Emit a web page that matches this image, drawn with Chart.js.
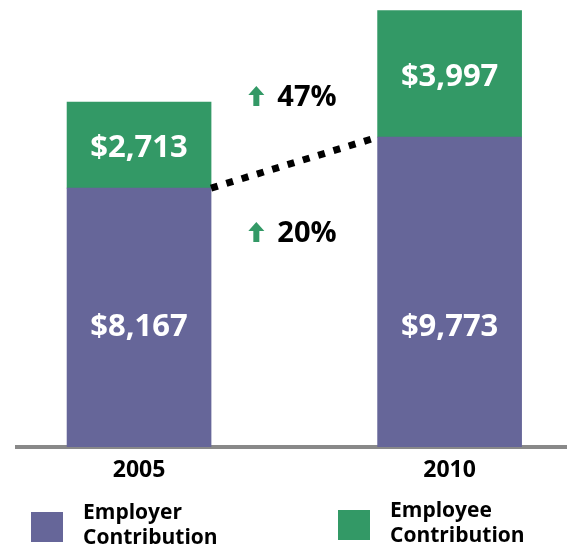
<!DOCTYPE html>
<html>
<head>
<meta charset="utf-8">
<script src="https://cdn.jsdelivr.net/npm/chart.js@4"></script>
<style>
html,body{margin:0;padding:0;background:#fff;}
canvas{display:block;}
</style>
</head>
<body>
<canvas id="c" width="567" height="547"></canvas>
<script>
const categories = ['2005', '2010'];
const employer = [8167, 9773];
const employee = [2713, 3997];
const seriesNames = ['Employer Contribution', 'Employee Contribution'];
const growthLabels = ['47%', '20%'];

const PURPLE = '#666699';
const GREEN = '#339966';
const FONT = '"Open Sans", "Noto Sans", sans-serif';

function fmt(v) { return '$' + v.toLocaleString('en-US'); }

const labelPlugin = {
  id: 'labels',
  afterDatasetsDraw(chart) {
    const ctx = chart.ctx;
    const ys = chart.scales.y;
    ctx.save();
    ctx.fillStyle = '#fff';
    const fs = 31;
    ctx.font = 'bold ' + fs + 'px ' + FONT;
    ctx.textAlign = 'center';
    ctx.textBaseline = 'alphabetic';
    const cap = fs * 0.714;
    const m0 = chart.getDatasetMeta(0), m1 = chart.getDatasetMeta(1);
    m0.data.forEach((bar, i) => {
      const y = ys.getPixelForValue(3850);
      ctx.fillText(fmt(employer[i]), bar.x, y + cap / 2);
    });
    m1.data.forEach((bar, i) => {
      const y = (bar.y + bar.base) / 2;
      ctx.fillText(fmt(employee[i]), bar.x, y + cap / 2 + 1);
    });
    ctx.restore();
  }
};

const annotPlugin = {
  id: 'annot',
  afterDatasetsDraw(chart) {
    const ctx = chart.ctx;
    const b0 = chart.getDatasetMeta(0).data[0];
    const b1 = chart.getDatasetMeta(0).data[1];
    ctx.save();
    // dotted connector
    ctx.strokeStyle = '#000';
    ctx.lineWidth = 7;
    ctx.setLineDash([7, 9]);
    ctx.beginPath();
    ctx.moveTo(b0.x + b0.width / 2, b0.y);
    ctx.lineTo(b1.x - b1.width / 2, b1.y);
    ctx.stroke();
    ctx.setLineDash([]);
    // growth labels
    const mid = (b0.x + b1.x) / 2;
    const rows = [96, 232];
    rows.forEach((cy, i) => {
      const ax = mid - 38;
      ctx.fillStyle = GREEN;
      ctx.beginPath();
      ctx.moveTo(ax, cy - 10);
      ctx.lineTo(ax + 8, cy - 1);
      ctx.lineTo(ax + 3, cy - 1);
      ctx.lineTo(ax + 3, cy + 10);
      ctx.lineTo(ax - 3, cy + 10);
      ctx.lineTo(ax - 3, cy - 1);
      ctx.lineTo(ax - 8, cy - 1);
      ctx.closePath();
      ctx.fill();
      ctx.fillStyle = '#000';
      const fs = 29;
      ctx.font = 'bold ' + fs + 'px ' + FONT;
      ctx.textAlign = 'left';
      ctx.textBaseline = 'alphabetic';
      ctx.fillText(growthLabels[i], mid - 17, cy + fs * 0.714 / 2);
    });
    ctx.restore();
  }
};

const legendPlugin = {
  id: 'customLegend',
  afterDraw(chart) {
    const ctx = chart.ctx;
    const items = [
      { x: 31, y: 512, tx: 83, ty: 513 },
      { x: 338, y: 510, tx: 390, ty: 511 }
    ];
    ctx.save();
    chart.data.datasets.forEach((ds, i) => {
      const it = items[i];
      ctx.fillStyle = ds.backgroundColor;
      ctx.fillRect(it.x, it.y, 32, 30);
      ctx.fillStyle = '#000';
      ctx.font = 'bold 21px ' + FONT;
      ctx.textAlign = 'left';
      ctx.textBaseline = 'middle';
      const parts = ds.label.split(' ');
      parts.forEach((p, k) => ctx.fillText(p, it.tx, it.ty + k * 25));
    });
    ctx.restore();
  }
};

new Chart(document.getElementById('c'), {
  type: 'bar',
  data: {
    datasets: [
      {
        label: seriesNames[0],
        data: employer.map((v, i) => ({ x: i, y: v })),
        backgroundColor: PURPLE,
        stack: 's',
        barThickness: 144
      },
      {
        label: seriesNames[1],
        data: employee.map((v, i) => ({ x: i, y: v })),
        backgroundColor: GREEN,
        stack: 's',
        barThickness: 144
      }
    ]
  },
  options: {
    responsive: false,
    animation: false,
    layout: { padding: { left: 17, right: 0, top: 0, bottom: 0 } },
    plugins: { legend: { display: false }, tooltip: { enabled: false } },
    scales: {
      x: {
        type: 'linear',
        offset: false,
        min: -0.393,
        max: 1.378,
        grid: { display: false, drawTicks: false },
        border: { display: true, color: '#898989', width: 4 },
        afterBuildTicks(scale) { scale.ticks = categories.map((c, i) => ({ value: i })); },
        afterFit(scale) { scale.height = 100; },
        ticks: {
          padding: 10,
          color: '#000',
          font: { family: FONT, size: 23, weight: 'bold' },
          callback: (v) => categories[v] !== undefined ? categories[v] : ''
        }
      },
      y: {
        display: false,
        stacked: true,
        min: 0,
        max: 14100
      }
    }
  },
  plugins: [labelPlugin, annotPlugin, legendPlugin]
});
</script>
</body>
</html>
